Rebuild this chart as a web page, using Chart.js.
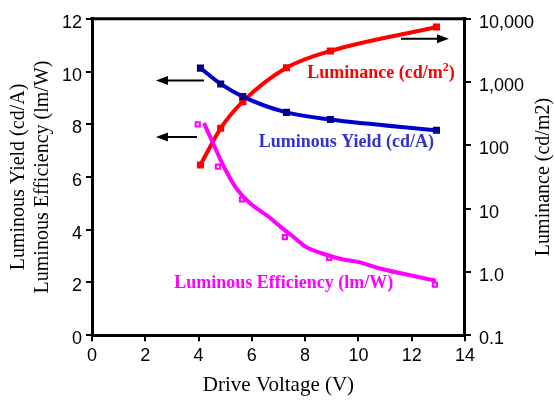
<!DOCTYPE html>
<html>
<head>
<meta charset="utf-8">
<script src="https://cdn.jsdelivr.net/npm/chart.js@4"></script>
<style>
  html, body { margin: 0; padding: 0; background: #fff; }
  #wrap { width: 555px; height: 401px; }
</style>
</head>
<body>
<div id="wrap"><canvas id="chart"></canvas></div>
<script>
// Luminous yield (cd/A) - left axis
const yieldVolt = [4.07, 4.83, 5.66, 7.3, 8.95, 12.93];
const yieldVals = [10.13, 9.53, 9.05, 8.45, 8.18, 7.77];

// Luminance (cd/m2) - right log axis
const lumVolt = [4.07, 4.83, 5.66, 7.3, 8.95, 12.93];
const lumVals = [49, 186, 490, 1680, 3100, 7400];

// Luminous efficiency (lm/W) - measured markers and fitted curve
const effMarkVolt = [3.97, 4.73, 5.63, 7.24, 8.9, 12.87];
const effMarkVals = [8.0, 6.39, 5.15, 3.72, 2.93, 1.92];
const effLineVolt = [4.2, 4.54, 4.95, 5.4, 5.89, 6.61, 7.09, 7.5, 8.03, 8.71, 9.35, 9.98, 10.85, 11.86, 12.91];
const effLineVals = [8.05, 7.29, 6.39, 5.6, 5.04, 4.51, 4.1, 3.78, 3.35, 3.08, 2.89, 2.78, 2.52, 2.29, 2.07];

// tick labels
const xTicks = [0, 2, 4, 6, 8, 10, 12, 14];
const leftTicks = [0, 2, 4, 6, 8, 10, 12];
const rightTickVals = [0.1, 1, 10, 100, 1000, 10000];
const rightTickLabels = ['0.1', '1.0', '10', '100', '1,000', '10,000'];
const rightTitle = 'Luminance (cd/m2)';

function pts(xs, ys) {
    return xs.map((x, i) => ({ x: x, y: ys[i] }));
}

const tickFont = { family: "'Liberation Sans', Arial, sans-serif", size: 18 };
const titleFont = { family: "'Liberation Serif', 'Times New Roman', serif", size: 20 };
const tickGrid = { drawOnChartArea: false, drawTicks: true, tickLength: 6, color: '#000', lineWidth: 2 };
const axisBorder = { display: true, color: '#000', width: 3 };

// labels and arrows inside the plot (data coordinates)
const notes = [
    { text: 'Luminance (cd/m', sup: '2', tail: ')', x: 10.85, y: 9.92, color: '#ff0000' },
    { text: 'Luminous Yield (cd/A)', x: 9.55, y: 7.3, color: '#3333cc' },
    { text: 'Luminous Efficiency (lm/W)', x: 7.2, y: 1.95, color: '#ff00ff' }
];
const arrows = [
    { x0: 4.2, x1: 2.4, y: 9.66 },
    { x0: 3.94, x1: 2.4, y: 7.52 },
    { x0: 11.6, x1: 13.4, y: 11.24 }
];

const decorPlugin = {
    id: 'decor',
    afterDatasetsDraw(chart) {
        const ctx = chart.ctx;
        const xs = chart.scales.x, ys = chart.scales.y;
        const a = chart.chartArea;
        ctx.save();
        // top frame line
        ctx.strokeStyle = '#000';
        ctx.lineWidth = 3;
        ctx.beginPath();
        ctx.moveTo(a.left - 1.5, a.top);
        ctx.lineTo(a.right + 1.5, a.top);
        ctx.stroke();

        // arrows
        ctx.lineWidth = 2;
        ctx.fillStyle = '#000';
        arrows.forEach(ar => {
            const px0 = xs.getPixelForValue(ar.x0);
            const px1 = xs.getPixelForValue(ar.x1);
            const py = ys.getPixelForValue(ar.y);
            const dir = px1 > px0 ? 1 : -1;
            ctx.beginPath();
            ctx.moveTo(px0, py);
            ctx.lineTo(px1 - dir * 8, py);
            ctx.stroke();
            ctx.beginPath();
            ctx.moveTo(px1, py);
            ctx.lineTo(px1 - dir * 12, py - 4.5);
            ctx.lineTo(px1 - dir * 12, py + 4.5);
            ctx.closePath();
            ctx.fill();
        });

        // text labels
        ctx.textBaseline = 'middle';
        ctx.textAlign = 'left';
        notes.forEach(n => {
            const main = "bold 18px 'Liberation Serif', 'Times New Roman', serif";
            const small = "bold 12px 'Liberation Serif', 'Times New Roman', serif";
            ctx.font = main;
            let w = ctx.measureText(n.text).width;
            let ws = 0, wt = 0;
            if (n.sup) {
                ctx.font = small;
                ws = ctx.measureText(n.sup).width;
                ctx.font = main;
                wt = ctx.measureText(n.tail).width;
            }
            const cx = xs.getPixelForValue(n.x);
            const cy = ys.getPixelForValue(n.y);
            let px = cx - (w + ws + wt) / 2;
            ctx.fillStyle = n.color;
            ctx.font = main;
            ctx.fillText(n.text, px, cy);
            if (n.sup) {
                px += w;
                ctx.font = small;
                ctx.fillText(n.sup, px, cy - 6);
                px += ws;
                ctx.font = main;
                ctx.fillText(n.tail, px, cy);
            }
        });

        // right axis title, reads bottom to top like the left one
        ctx.fillStyle = '#000';
        ctx.font = "20px 'Liberation Serif', 'Times New Roman', serif";
        ctx.textAlign = 'center';
        ctx.translate(chart.width - 11, (a.top + a.bottom) / 2);
        ctx.rotate(-Math.PI / 2);
        ctx.fillText(rightTitle, 0, 0);
        ctx.restore();
    }
};

new Chart(document.getElementById('chart'), {
    type: 'scatter',
    data: {
        datasets: [
            {
                label: 'Luminous Efficiency curve',
                data: pts(effLineVolt, effLineVals),
                yAxisID: 'y',
                showLine: true,
                borderColor: '#ff00ff',
                borderWidth: 4,
                pointRadius: 0,
                cubicInterpolationMode: 'monotone'
            },
            {
                label: 'Luminous Efficiency',
                data: pts(effMarkVolt, effMarkVals),
                yAxisID: 'y',
                showLine: false,
                pointStyle: 'rect',
                pointRadius: 3,
                pointBorderWidth: 2,
                pointBorderColor: '#ff00ff',
                pointBackgroundColor: '#ffffff'
            },
            {
                label: 'Luminous Yield',
                data: pts(yieldVolt, yieldVals),
                yAxisID: 'y',
                showLine: true,
                borderColor: '#0000cc',
                borderWidth: 4,
                cubicInterpolationMode: 'monotone',
                pointStyle: 'rect',
                pointRadius: 5,
                pointBorderWidth: 0,
                pointBackgroundColor: '#000080'
            },
            {
                label: 'Luminance',
                data: pts(lumVolt, lumVals),
                yAxisID: 'y2',
                showLine: true,
                borderColor: '#ff0000',
                borderWidth: 4,
                cubicInterpolationMode: 'monotone',
                pointStyle: 'rect',
                pointRadius: 5,
                pointBorderWidth: 0,
                pointBackgroundColor: '#ff0000'
            }
        ]
    },
    options: {
        responsive: true,
        maintainAspectRatio: false,
        animation: false,
        layout: { padding: { top: 8, right: 13, left: 7, bottom: 0 } },
        plugins: {
            legend: { display: false },
            tooltip: { enabled: false }
        },
        scales: {
            x: {
                type: 'linear',
                min: 0,
                max: 14,
                afterBuildTicks: axis => { axis.ticks = xTicks.map(v => ({ value: v })); },
                ticks: { font: tickFont, color: '#000', padding: 4 },
                grid: tickGrid,
                border: axisBorder,
                title: { display: true, text: 'Drive Voltage (V)', font: { family: titleFont.family, size: 21 }, color: '#000', padding: { top: 2, bottom: 3 } }
            },
            y: {
                type: 'linear',
                position: 'left',
                min: 0,
                max: 12,
                afterBuildTicks: axis => { axis.ticks = leftTicks.map(v => ({ value: v })); },
                ticks: { font: tickFont, color: '#000', padding: 4, labelOffset: 4 },
                grid: tickGrid,
                border: axisBorder,
                title: {
                    display: true,
                    text: ['Luminous Yield (cd/A)', 'Luminous Efficiency (lm/W)'],
                    font: titleFont,
                    color: '#000',
                    padding: { top: 0, bottom: 3 }
                }
            },
            y2: {
                type: 'logarithmic',
                position: 'right',
                min: 0.1,
                max: 10000,
                afterBuildTicks: axis => { axis.ticks = rightTickVals.map(v => ({ value: v })); },
                ticks: {
                    font: tickFont,
                    color: '#000',
                    padding: 8,
                    labelOffset: 4,
                    callback: v => {
                        const i = rightTickVals.indexOf(v);
                        return i >= 0 ? rightTickLabels[i] : '';
                    }
                },
                grid: tickGrid,
                border: axisBorder,
                title: { display: false }
            }
        }
    },
    plugins: [decorPlugin]
});
</script>
</body>
</html>
